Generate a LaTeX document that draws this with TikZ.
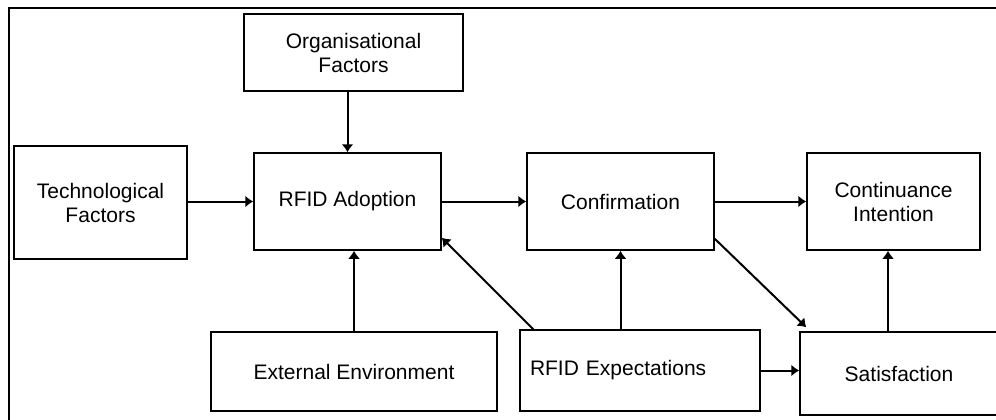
\documentclass[tikz,border=0pt]{standalone}
\usepackage{fontspec}
\setmainfont{Liberation Sans}
\usetikzlibrary{arrows.meta,positioning}

\tikzset{
  box/.style={draw, line width=0.75pt, align=center, inner sep=0pt,
    font=\fontsize{10.5pt}{12pt}\selectfont},
}

\begin{document}
\begin{tikzpicture}[x=0.5pt, y=-0.5pt, line width=1pt, >={Latex[length=4pt,width=6pt]}]
\clip (0,0) rectangle (996,419);
\draw (9,430) -- (9,8) -- (1000,8);
\node (ado) [box, minimum width=93.5pt, minimum height=48.5pt] at (347.5,201.5) {RFID Adoption};
\node (con) [box, minimum width=93.5pt, minimum height=48.5pt, right of=ado, node distance=136.5pt] {Confirmation};
\node (cti) [box, minimum width=86.5pt, minimum height=48.5pt, right of=con, node distance=136.5pt] {Continuance\\Intention};
\node (tec) [box, minimum width=86.5pt, minimum height=56.5pt] at (100.5,202.5) {Technological\\Factors};
\node (org) [box, minimum width=109.5pt, minimum height=38.5pt] at (353.5,52.5) {Organisational\\Factors};
\node (ext) [box, minimum width=143pt, minimum height=39.5pt] at (354,371.5) {External Environment};
\node (exp) [box, text width=110pt, align=left, inner xsep=5pt, minimum height=40.5pt] at (640,370.5) {RFID Expectations};
\node (sat) [box, minimum width=99pt, minimum height=41.5pt] at (899,373.5) {Satisfaction};
\draw[->] (org.south -| ado.north) to (ado.north);
\draw[->] (tec.east |- ado.west) to (ado.west);
\draw[->] (ado) to (con);
\draw[->] (con) to (cti);
\draw[->] (ext.north) to (ext.north |- ado.south);
\draw[->] ([xshift=7pt]exp.north west) to ([yshift=6.5pt]ado.south east);
\draw[->] (exp.north -| con.south) to (con.south);
\draw[->] ([yshift=6pt]con.south east) to ([xshift=3.5pt,yshift=2pt]sat.north west);
\draw[->] (exp.east) to (exp.east -| sat.west);
\draw[->] ([xshift=-5.5pt]sat.north) to ([xshift=-5.5pt]sat.north |- cti.south);
\end{tikzpicture}
\end{document}
